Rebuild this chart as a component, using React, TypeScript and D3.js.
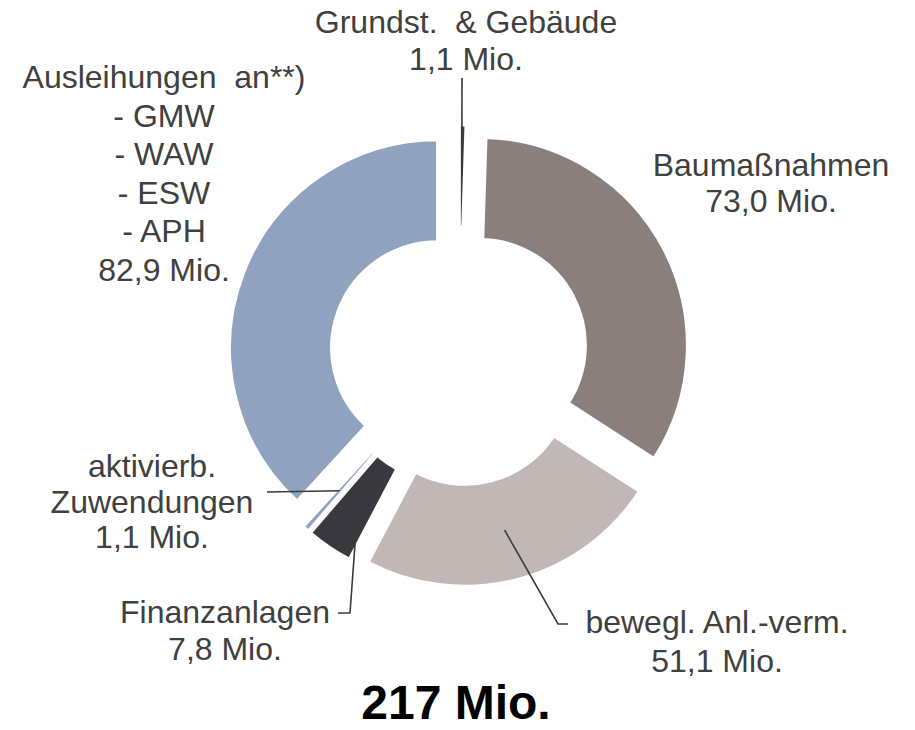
import React from "react"
import * as d3 from "d3"

// Investitionen nach Bereichen (Mio. Euro), im Uhrzeigersinn ab 12 Uhr
const categories = [
  "Grundst.  & Gebäude",
  "Baumaßnahmen",
  "bewegl. Anl.-verm.",
  "Finanzanlagen",
  "aktivierb. Zuwendungen",
  "Ausleihungen an**)",
]
const values = [1.1, 73.0, 51.1, 7.8, 1.1, 82.9]
const labelLines = [
  ["Grundst.  & Gebäude"],
  ["Baumaßnahmen"],
  ["bewegl. Anl.-verm."],
  ["Finanzanlagen"],
  ["aktivierb.", "Zuwendungen"],
  ["Ausleihungen  an**)", "- GMW", "- WAW", "- ESW", "- APH"],
]
const colors = ["#3e3d43", "#8b7f7b", "#c1b8b6", "#39383e", "#8fa3c2", "#8fa2c0"]

// layout
const W = 915
const H = 730
const cx = 459
const cy = 356
const outerR = 208
const innerR = 106
const explode = 23

const labelPos = [
  { x: 466, y: 33, dy: 37 },
  { x: 771, y: 176, dy: 36 },
  { x: 717, y: 633, dy: 39 },
  { x: 225, y: 623, dy: 37 },
  { x: 152, y: 477, dy: 35.5 },
  { x: 164, y: 88, dy: 38.6 },
]
const leaderElbows: ([number, number][] | null)[] = [
  [[462, 78]],
  null,
  [[568, 624], [558, 624]],
  [[338, 613], [350, 613]],
  [[267, 492]],
  null,
]

const de = d3.formatLocale({ decimal: ",", thousands: ".", grouping: [3], currency: ["", " €"] })
const fmt1 = de.format(".1f")
const fmt0 = de.format(".0f")

const App: React.FC = () => {
  const pie = d3
    .pie<number>()
    .sort(null)
    .value((d) => d)
  const arcs = pie(values)
  const arc = d3.arc<d3.PieArcDatum<number>>().innerRadius(innerR).outerRadius(outerR)
  const total = d3.sum(values)

  const offset = (a: number, r: number): [number, number] => [Math.sin(a) * r, -Math.cos(a) * r]

  return (
    <svg width={W} height={H} style={{ position: "absolute", left: 0, top: 0, background: "#fff" }}>
      <g transform={`translate(${cx},${cy})`}>
        {arcs.map((d, i) => {
          const mid = (d.startAngle + d.endAngle) / 2
          const [ox, oy] = offset(mid, explode)
          return (
            <path
              key={categories[i]}
              d={arc(d) || ""}
              transform={`translate(${ox},${oy})`}
              fill={colors[i]}
              stroke="#fff"
              strokeWidth={3}
            />
          )
        })}
      </g>

      {arcs.map((d, i) => {
        const elbows = leaderElbows[i]
        if (!elbows) return null
        const mid = (d.startAngle + d.endAngle) / 2
        const [ox, oy] = offset(mid, explode)
        const [px, py] = offset(mid, (innerR + outerR) / 2)
        const pts = [...elbows, [cx + ox + px, cy + oy + py]]
        return (
          <polyline
            key={"l" + i}
            points={pts.map((p) => p.join(",")).join(" ")}
            fill="none"
            stroke="#3a3a3a"
            strokeWidth={1.6}
          />
        )
      })}

      {labelLines.map((lines, i) => {
        const pos = labelPos[i]
        const all = [...lines, `${fmt1(values[i])} Mio.`]
        return (
          <text
            key={"t" + i}
            x={pos.x}
            y={pos.y}
            textAnchor="middle"
            fontFamily="'Liberation Sans', Arial, sans-serif"
            fontSize={32}
            fill="#404040"
            style={{ whiteSpace: "pre" }}
          >
            {all.map((line, j) => (
              <tspan key={j} x={pos.x} y={pos.y + j * pos.dy}>
                {line}
              </tspan>
            ))}
          </text>
        )
      })}

      <text
        x={456}
        y={719}
        textAnchor="middle"
        fontFamily="'Liberation Sans', Arial, sans-serif"
        fontSize={48}
        fontWeight="bold"
        fill="#000"
      >
        {`${fmt0(total)} Mio.`}
      </text>
    </svg>
  )
}

export default App
